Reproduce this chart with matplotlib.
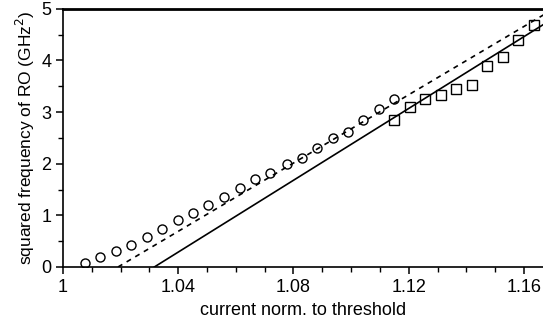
import matplotlib
matplotlib.use("Agg")
from matplotlib import pyplot as plt
from matplotlib.ticker import MultipleLocator, FuncFormatter

plt.rcParams['font.family'] = ['Liberation Sans', 'DejaVu Sans']

# measured points (circles)
circ_x = [1.0077, 1.0130, 1.0184, 1.0237, 1.0292, 1.0344, 1.0400, 1.0452,
          1.0504, 1.0560, 1.0616, 1.0668, 1.0720, 1.0776, 1.0828, 1.0880,
          1.0936, 1.0988, 1.1040, 1.1096, 1.1148]
circ_y = [0.08, 0.19, 0.31, 0.43, 0.58, 0.74, 0.91, 1.05, 1.20, 1.36, 1.53,
          1.71, 1.82, 2.00, 2.11, 2.31, 2.50, 2.62, 2.85, 3.06, 3.26]

# measured points (squares)
sq_x = [1.1149, 1.1203, 1.1258, 1.1311, 1.1365, 1.1419, 1.1472, 1.1527,
        1.1580, 1.1635]
sq_y = [2.85, 3.10, 3.26, 3.33, 3.44, 3.52, 3.90, 4.06, 4.40, 4.69]

# linear fits (end points)
fit_dash_x = [1.0191, 1.1700]
fit_dash_y = [0.0, 4.99]
fit_solid_x = [1.0317, 1.1700]
fit_solid_y = [0.0, 4.81]

fig = plt.figure(figsize=(5.43, 3.28), dpi=100)
ax = fig.add_axes([0.116, 0.186, 0.884, 0.787])

ax.plot(fit_dash_x, fit_dash_y, color='black', lw=1.2, ls=(0, (3, 3)))
ax.plot(fit_solid_x, fit_solid_y, color='black', lw=1.2)
ax.plot(circ_x, circ_y, 'o', ms=6.5, mfc='none', mec='black', mew=1.0)
ax.plot(sq_x, sq_y, 's', ms=7.5, mfc='none', mec='black', mew=1.0)

ax.set_xlim(1.0, 1.1666)
ax.set_ylim(0, 5)
ax.xaxis.set_major_locator(MultipleLocator(0.04))
ax.xaxis.set_minor_locator(MultipleLocator(0.01))
ax.yaxis.set_major_locator(MultipleLocator(1))
ax.yaxis.set_minor_locator(MultipleLocator(0.5))
ax.xaxis.set_major_formatter(FuncFormatter(lambda v, p: '%g' % round(v, 2)))

ax.spines['right'].set_visible(False)
ax.spines['top'].set_linewidth(2.0)
ax.spines['left'].set_linewidth(1.2)
ax.spines['bottom'].set_linewidth(1.2)
ax.tick_params(which='major', direction='out', length=5, width=1.1,
               labelsize=13, top=False, right=False)
ax.tick_params(axis='x', which='major', pad=4)
ax.tick_params(which='minor', direction='out', length=3.5, width=1.0,
               top=False, right=False)

ax.set_xlabel('current norm. to threshold', fontsize=13, labelpad=4)
ax.set_ylabel('squared frequency of RO (GHz$^2$)', fontsize=12.5, labelpad=3)

fig.savefig('out.png', dpi=100)
